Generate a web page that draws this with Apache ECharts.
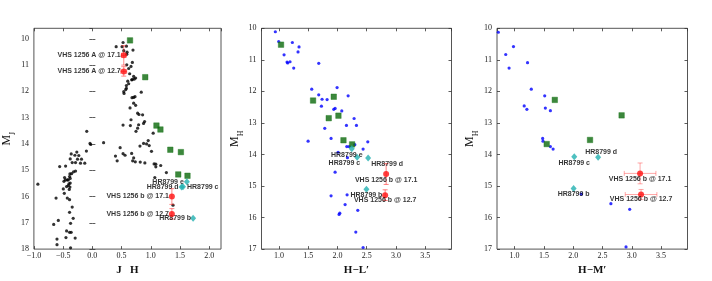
<!DOCTYPE html>
<html><head><meta charset="utf-8">
<script src="https://cdn.jsdelivr.net/npm/echarts@6/dist/echarts.min.js"></script>
<style>html,body{margin:0;padding:0;background:#fff}#c{width:712px;height:281px}</style>
</head><body><div id="c"></div>
<script>
// ---------- Panel 1: M_J vs J-H ----------
const fieldJH = [
[0.525,10.14],[0.407,10.30],[0.508,10.30],[0.582,10.28],[0.537,10.45],[0.593,10.51],[0.695,10.43],[0.588,10.59],[0.588,10.99],[0.621,11.13],[0.684,10.90],[0.661,11.05],[0.638,11.33],[0.706,11.43],[0.740,11.49],[0.684,11.55],[0.718,11.53],[0.672,11.56],[0.605,11.61],[0.621,11.71],[0.582,11.78],[0.582,11.88],[0.571,11.93],[0.537,12.01],[0.542,12.08],[0.678,12.24],[0.706,12.23],[0.729,12.20],[0.836,12.03],[0.644,12.63],[0.706,12.45],[0.740,12.53],[0.774,12.83],[0.797,12.88],[0.661,13.08],[0.650,13.30],[0.525,13.28],[0.791,13.27],[0.893,13.15],[0.859,12.89],[0.876,13.22],[0.774,13.40],[0.746,13.52],[1.040,13.59],
[-0.096,13.52],[0.192,13.95],[-0.040,13.98],[-0.028,14.02],[-0.102,14.27],[0.475,14.14],[0.395,14.46],[0.525,14.37],[0.424,14.64],[0.559,14.43],[0.672,14.36],[0.706,14.53],[0.689,14.64],[0.734,14.68],[0.814,14.08],[0.876,13.98],[0.955,13.87],[0.972,14.06],[0.927,14.00],[1.011,14.28],[0.819,14.69],[0.898,14.72],[1.056,14.76],[1.085,14.87],[1.085,14.77],[1.169,14.82],[1.266,15.09],[1.068,15.28],[1.379,16.33],
[-0.932,15.53],[-0.559,14.86],[-0.458,14.84],[-0.379,14.57],[-0.362,14.38],[-0.266,14.31],[-0.232,14.44],[-0.345,14.71],[-0.288,14.71],[-0.203,14.73],[-0.130,14.73],[-0.299,14.43],[-0.186,14.58],[-0.254,14.58],[-0.621,16.06],[-0.480,15.88],[-0.497,15.71],[-0.441,15.62],[-0.412,15.58],[-0.395,15.73],[-0.379,15.49],[-0.379,15.31],[-0.384,15.14],[-0.356,15.13],[-0.322,15.06],[-0.288,15.03],[-0.475,15.28],[-0.486,15.42],[-0.463,15.37],[-0.429,15.37],[-0.412,15.37],[-0.390,15.24],[-0.401,15.52],[-0.384,15.64],[-0.429,16.06],[-0.390,16.12],[-0.345,16.40],[-0.390,16.60],[-0.328,16.83],[-0.373,17.02],[-0.661,17.06],[-0.582,16.91],[-0.441,17.31],[-0.390,17.36],[-0.362,17.36],[-0.605,17.62],[-0.605,17.83],[-0.452,17.56],[-0.294,17.58],[-0.373,17.95]
];
const greenJH = [[0.644,10.06],[0.904,11.46],[1.096,13.30],[1.164,13.45],[1.333,14.22],[1.514,14.31],[1.469,15.16],[1.627,15.21]];
const hrNamesJH = ['HR8799 e','HR8799 d','HR8799 c','HR8799 b'];
const hrJH = [[1.616,15.44],[1.525,15.64],[1.550,15.63],[1.723,16.83]];
const vhsNamesJH = ['VHS 1256 A @ 17.1','VHS 1256 A @ 12.7','VHS 1256 b @ 17.1','VHS 1256 b @ 12.7'];
const vhsJH = [[0.537,10.63],[0.537,11.24],[1.360,16.00],[1.360,16.66]];
const vhsErrJH = [[0.04,0.37],[0.05,0.18],[0,0.30],[0,0.20]]; // [xerr, yerr]

// ---------- Panel 2: M_H vs H-L' ----------
const fieldHL = [[0.937,10.11],[0.994,10.42],[1.228,10.45],[1.342,10.59],[1.325,10.75],[1.086,10.84],[1.137,11.07],[1.148,11.10],[1.188,11.06],[1.251,11.26],[1.679,11.11],[1.559,11.93],[1.679,12.11],[1.736,12.25],[1.822,12.26],[1.725,12.47],[1.993,11.88],[2.182,12.14],[1.936,12.57],[1.959,12.54],[2.073,12.62],[1.782,13.17],[2.153,13.08],[2.284,12.86],[2.324,13.08],[1.890,13.49],[1.497,13.58],[2.159,13.75],[2.199,13.75],[2.296,13.69],[2.438,13.83],[2.518,13.60],[2.010,13.93],[2.170,14.10],[1.959,14.56],[1.890,15.31],[2.164,15.28],[2.130,15.59],[2.027,15.90],[2.039,15.86],[2.347,15.77],[2.313,16.46],[2.438,16.95]];
const greenHL = [[1.034,10.52],[1.582,12.29],[1.936,12.17],[1.850,12.85],[2.016,12.77],[2.102,13.55],[2.250,13.68]];
const hrNamesHL = ['HR8799 e','HR8799 c','HR8799 d','HR8799 b'];
const hrHL = [[2.244,13.82],[2.336,14.09],[2.524,14.11],[2.495,15.10]];
const vhsNamesHL = ['VHS 1256 b @ 17.1','VHS 1256 b @ 12.7'];
const vhsHL = [[2.832,14.62],[2.815,15.29]];
const vhsErrHL = [[0,0.33],[0,0.17]];

// ---------- Panel 3: M_H vs H-M' ----------
const fieldHM = [[0.723,10.125],[0.981,10.58],[0.849,10.83],[0.906,11.26],[1.221,11.09],[1.285,11.93],[1.514,12.14],[1.164,12.46],[1.210,12.57],[1.525,12.53],[1.611,12.61],[1.479,13.49],[1.485,13.58],[1.611,13.75],[1.657,13.83],[2.138,15.26],[2.643,15.56],[2.964,15.74],[2.901,16.93]];
const greenHM = [[1.686,12.27],[2.826,12.76],[2.287,13.54],[1.548,13.67]];
const hrNamesHM = ['HR8799 c','HR8799 d','HR8799 b'];
const hrHM = [[2.018,14.07],[2.425,14.09],[2.007,15.08]];
const vhsNamesHM = ['VHS 1256 b @ 17.1','VHS 1256 b @ 12.7'];
const vhsHM = [[3.141,14.60],[3.158,15.27]];
const vhsErrHM = [[0.27,0.33],[0.27,0.16]];

// axis titles and ranges
const xNames = ['J   H','H\u2212L\u2032','H\u2212M\u2032'];
const yNames = ['{m|M}{s|J}','{m|M}{s|H}','{m|M}{s|H}'];
const xRanges = [[-1,2.2],[0.7,3.95],[0.7,3.95]];
const yRanges = [[9.6,18],[10,17],[10,17]];

// ---------- layout (styles / placements) ----------
const grids = [
  {left:30.5, top:28.3, width:190.5, height:223.7},
  {left:261.5, top:28.3, width:190, height:223.7},
  {left:497, top:28.3, width:190.5, height:223.7}
];
const yNameGap = [12, 13, 11];
// label placement: [align, dx, dy]
const hrPlaceJH = [['right',-3,0],['right',-3,0],['left',4,0],['right',-2,0]];
const vhsPlaceJH = [['right',-3,0],['right',-3,0],['right',-3,0],['right',-3,0]];
const hrPlaceHL = [['center',-5,6],['right',3,6],['left',3,6],['center',0,6]];
const vhsPlaceHL = [['center',0,6],['center',0,5]];
const hrPlaceHM = [['center',0,6],['center',3,-5],['center',0,6]];
const vhsPlaceHM = [['center',0,6],['center',0,5]];

const serif = 'Liberation Serif';
const labFont = {fontFamily:'Liberation Sans', fontWeight:'bold', fontSize:7, color:'#000'};

function fmtX(v){ return v.toFixed(1).replace('-', '\u2212'); }

const xAxes = [], yAxes = [];
for (let i=0;i<3;i++){
  const baseX = {type:'value', gridIndex:i, min:xRanges[i][0], max:xRanges[i][1], splitNumber:6,
    axisLine:{show:false}, splitLine:{show:false},
    axisTick:{inside:true, length:3, lineStyle:{color:'#333', width:0.8}}};
  xAxes.push(Object.assign({}, baseX, {position:'bottom',
    name:xNames[i], nameLocation:'middle', nameGap:10,
    nameTextStyle:{fontFamily:serif, fontWeight:'bold', fontSize:11, color:'#111'},
    axisLabel:{fontFamily:serif, fontSize:8, color:'#222', margin:3, formatter:fmtX,
      showMinLabel: i===0, showMaxLabel:false}}));
  const baseY = {type:'value', gridIndex:i, inverse:true, min:yRanges[i][0], max:yRanges[i][1],
    axisLine:{show:false}, splitLine:{show:false},
    axisTick:{inside:true, length:3, lineStyle:{color:'#333', width:0.8}}};
  if (i>0) baseY.interval = 1; else baseY.splitNumber = 8;
  yAxes.push(Object.assign({}, baseY, {position:'left',
    name:yNames[i], nameLocation:'middle', nameGap:yNameGap[i], nameRotate:90,
    nameTextStyle:{fontFamily:serif, color:'#111',
      rich:{m:{fontFamily:serif, fontSize:12, lineHeight:12, verticalAlign:'top', color:'#111'},
            s:{fontFamily:serif, fontSize:8, lineHeight:16, verticalAlign:'bottom', color:'#111'}}},
    axisLabel:{fontFamily:serif, fontSize:8, color:'#222', margin:5,
      formatter:v=>String(Math.round(v)), showMinLabel: i!==0, showMaxLabel:true}}));
}
for (let i=0;i<3;i++){
  xAxes.push({type:'value', gridIndex:i, position:'top', min:xRanges[i][0], max:xRanges[i][1], splitNumber:6,
    axisLine:{show:false}, splitLine:{show:false}, axisLabel:{show:false},
    axisTick:{inside:true, length:3, lineStyle:{color:'#333', width:0.8}}});
  const y2 = {type:'value', gridIndex:i, position:'right', inverse:true, min:yRanges[i][0], max:yRanges[i][1],
    axisLine:{show:false}, splitLine:{show:false}, axisLabel:{show:false},
    axisTick:{inside:true, length:3, lineStyle:{color:'#333', width:0.8}}};
  if (i>0) y2.interval = 1; else y2.splitNumber = 8;
  yAxes.push(y2);
}

function dots(i, pts, color){
  return {type:'scatter', xAxisIndex:i, yAxisIndex:i, data:pts, symbolSize:3.2,
    itemStyle:{color:color}, silent:true, z:2};
}
function squares(i, pts){
  return {type:'scatter', xAxisIndex:i, yAxisIndex:i, data:pts, symbol:'rect', symbolSize:5.5,
    itemStyle:{color:'#0b690b', borderColor:'#1c781c', borderWidth:0.5}, silent:true, z:3};
}
function labelled(i, pts, names, place, symbol, size, color, z){
  return {type:'scatter', xAxisIndex:i, yAxisIndex:i, symbol:symbol, symbolSize:size, z:z, silent:true,
    itemStyle:{color:color},
    data: pts.map((p,k)=>({value:p, label:Object.assign({show:true, position:'inside',
      align:place[k][0], verticalAlign:'middle', offset:[place[k][1], place[k][2]],
      formatter:names[k]}, labFont)}))};
}
function errbars(i, pts, errs, color){
  return {type:'custom', xAxisIndex:i, yAxisIndex:i, z:4, silent:true,
    data: pts.map((p,k)=>[p[0],p[1],errs[k][0],errs[k][1]]),
    encode:{x:0, y:1},
    renderItem:function(params, api){
      const x=api.value(0), y=api.value(1), xe=api.value(2), ye=api.value(3);
      const st={stroke:color, lineWidth:1};
      const ch=[]; const cap=2.5;
      if (ye>0){
        const a=api.coord([x,y-ye]), b=api.coord([x,y+ye]);
        ch.push({type:'line', shape:{x1:a[0],y1:a[1],x2:b[0],y2:b[1]}, style:st});
        ch.push({type:'line', shape:{x1:a[0]-cap,y1:a[1],x2:a[0]+cap,y2:a[1]}, style:st});
        ch.push({type:'line', shape:{x1:b[0]-cap,y1:b[1],x2:b[0]+cap,y2:b[1]}, style:st});
      }
      if (xe>0){
        const a=api.coord([x-xe,y]), b=api.coord([x+xe,y]);
        ch.push({type:'line', shape:{x1:a[0],y1:a[1],x2:b[0],y2:b[1]}, style:st});
        ch.push({type:'line', shape:{x1:a[0],y1:a[1]-cap,x2:a[0],y2:a[1]+cap}, style:st});
        ch.push({type:'line', shape:{x1:b[0],y1:b[1]-cap,x2:b[0],y2:b[1]+cap}, style:st});
      }
      return {type:'group', children:ch};
    }};
}

const cyan = '#22b0b0', red = '#ff1010';
const series = [
  dots(0, fieldJH, '#000'),
  squares(0, greenJH),
  errbars(0, vhsJH, vhsErrJH, 'rgba(255,40,40,0.55)'),
  labelled(0, hrJH, hrNamesJH, hrPlaceJH, 'diamond', [6,7], cyan, 5),
  labelled(0, vhsJH, vhsNamesJH, vhsPlaceJH, 'circle', 6, red, 6),

  dots(1, fieldHL, '#0000ff'),
  squares(1, greenHL),
  errbars(1, vhsHL, vhsErrHL, 'rgba(255,40,40,0.6)'),
  labelled(1, hrHL, hrNamesHL, hrPlaceHL, 'diamond', [6,7], cyan, 5),
  labelled(1, vhsHL, vhsNamesHL, vhsPlaceHL, 'circle', 6, red, 6),

  dots(2, fieldHM, '#0000ff'),
  squares(2, greenHM),
  errbars(2, vhsHM, vhsErrHM, 'rgba(255,60,60,0.45)'),
  labelled(2, hrHM, hrNamesHM, hrPlaceHM, 'diamond', [6,7], cyan, 5),
  labelled(2, vhsHM, vhsNamesHM, vhsPlaceHM, 'circle', 6, red, 6)
];

const chart = echarts.init(document.getElementById('c'), null, {renderer:'canvas'});
chart.setOption({
  animation:false,
  backgroundColor:'#fff',
  grid: grids.map(g=>Object.assign({show:true, borderColor:'#555', borderWidth:1, backgroundColor:'transparent', containLabel:false}, g)),
  xAxis: xAxes,
  yAxis: yAxes,
  series: series
});
</script></body></html>
